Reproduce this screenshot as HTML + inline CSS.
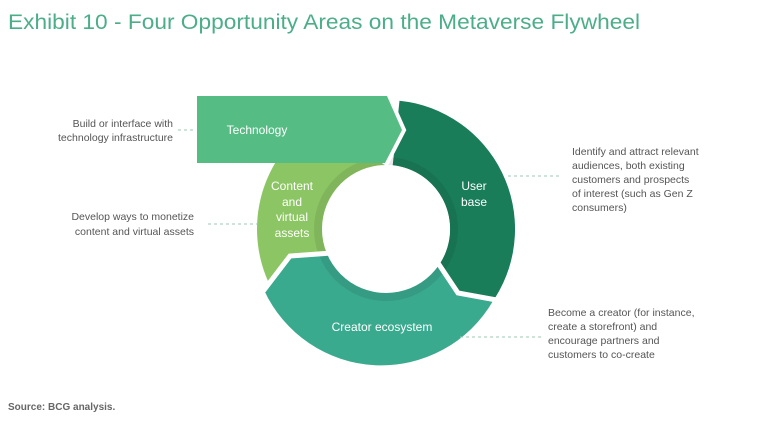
<!DOCTYPE html>
<html><head><meta charset="utf-8"><style>
html,body{margin:0;padding:0;background:#fff;}
svg{display:block;font-family:"Liberation Sans",sans-serif;}
</style></head><body>
<svg width="768" height="426" viewBox="0 0 768 426" xmlns="http://www.w3.org/2000/svg">
<text x="8" y="29" font-size="21" fill="#4cae89" textLength="632" lengthAdjust="spacingAndGlyphs">Exhibit 10 - Four Opportunity Areas on the Metaverse Flywheel</text>

<path d="M386 229 L274.3 293.5 A129 129 0 0 1 386 100 Z" fill="#8cc563"/>
<path d="M492.9 301.1 A129 129 0 0 1 264 290 L290 257 L330 255 A64 64 0 0 0 439 264.8 Z" fill="#3aaa8f"/>
<path d="M399.5 100.7 A129 129 0 0 1 495.4 297.4 L458 292 L440.3 262.9 A64 64 0 0 0 392.7 165.3 Z" fill="#1a7d5a"/>
<circle cx="386" cy="229" r="68" fill="none" stroke="#000" stroke-opacity="0.08" stroke-width="8"/>
<circle cx="386" cy="229" r="64" fill="#fff"/>
<polyline points="436,260 458,293 502,301" fill="none" stroke="#fff" stroke-width="5"/>
<polyline points="332,253 290,256 264,290 255,296" fill="none" stroke="#fff" stroke-width="5"/>
<polyline points="387,94 403,130 385,165" fill="none" stroke="#fff" stroke-width="6"/>
<polygon points="197,96 387,96 402,130 385,163 197,163" fill="#55bd83"/>

<g fill="#fff" font-size="12" text-anchor="middle">
<text x="257" y="134">Technology</text>
<text x="474" y="190">User</text>
<text x="474" y="206">base</text>
<text x="292" y="190">Content</text>
<text x="292" y="206">and</text>
<text x="292" y="221">virtual</text>
<text x="292" y="237">assets</text>
<text x="382" y="331">Creator ecosystem</text>
</g>

<g fill="#555" font-size="10.5">
<text x="173" y="127" text-anchor="end">Build or interface with</text>
<text x="173" y="141" text-anchor="end">technology infrastructure</text>
<text x="194" y="220" text-anchor="end">Develop ways to monetize</text>
<text x="194" y="235" text-anchor="end">content and virtual assets</text>
<text x="572" y="155">Identify and attract relevant</text>
<text x="572" y="169">audiences, both existing</text>
<text x="572" y="183">customers and prospects</text>
<text x="572" y="197">of interest (such as Gen Z</text>
<text x="572" y="211">consumers)</text>
<text x="548" y="316">Become a creator (for instance,</text>
<text x="548" y="330">create a storefront) and</text>
<text x="548" y="344">encourage partners and</text>
<text x="548" y="358">customers to co-create</text>
</g>
<g stroke="#9cc9b4" stroke-width="1" stroke-dasharray="3,3">
<line x1="178" y1="130" x2="196" y2="130"/>
<line x1="208" y1="224" x2="257" y2="224"/>
<line x1="508" y1="176" x2="562" y2="176"/>
<line x1="460" y1="337" x2="542" y2="337"/>
</g>
<text x="8" y="410" font-size="10" font-weight="bold" fill="#666">Source: BCG analysis.</text>
</svg>
</body></html>
